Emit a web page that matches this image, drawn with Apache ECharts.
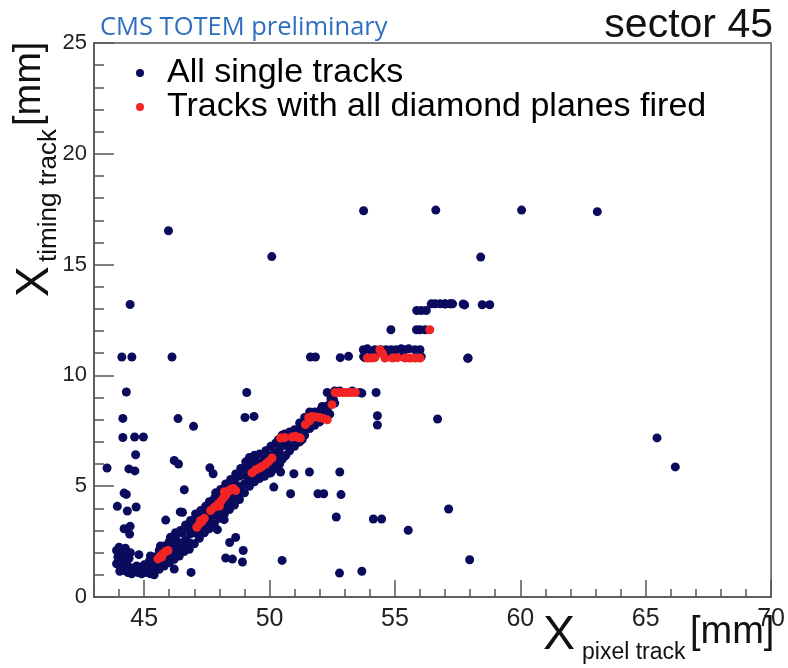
<!DOCTYPE html>
<html>
<head>
<meta charset="utf-8">
<script src="https://cdn.jsdelivr.net/npm/echarts@6/dist/echarts.min.js"></script>
<style>
html,body{margin:0;padding:0;background:#fff;}
#chart{width:788px;height:668px;}
</style>
</head>
<body>
<div id="chart"></div>
<script>
// ---- data (x = X pixel track [mm], y = X timing track [mm]) ----
var xMajorTicks = [45, 50, 55, 60, 65, 70];
var xMinorTicks = [43, 44, 46, 47, 48, 49, 51, 52, 53, 54, 56, 57, 58, 59, 61, 62, 63, 64, 66, 67, 68, 69];
var seriesNames = ['All single tracks', 'Tracks with all diamond planes fired'];

var allTracks = [
  // bottom band
  [44.2,1.2],[44.35,1.1],[44.5,1.05],[44.6,1.2],[44.75,1.1],[44.9,1.05],[45.0,1.2],[45.1,1.1],[45.25,1.05],[45.4,1.15],
  [44.4,1.35],[44.7,1.4],[45.0,1.45],[45.3,1.35],[45.5,1.3],[44.55,1.3],[44.85,1.3],[45.2,1.3],
  // left cluster
  [43.9,1.5],[43.95,1.8],[43.9,2.1],[44.0,2.25],[44.1,1.6],[44.15,1.95],[44.25,2.2],[44.3,1.5],[44.4,1.75],[44.45,2.0],
  [44.05,1.35],[44.2,1.8],[44.03,1.16],[44.79,1.91],
  // rising band
  [45.3,1.5],[45.4,1.8],[45.5,1.45],[45.6,2.1],[45.7,1.6],[45.8,2.3],[45.9,1.75],[46.0,2.5],[46.05,1.9],[46.15,2.2],
  [46.25,2.7],[46.3,2.0],[46.4,2.45],[46.5,2.9],[46.55,2.2],[46.65,2.6],[46.7,3.1],[46.8,2.45],[46.85,2.85],[46.9,3.3],
  [47.0,2.9],[47.0,3.5],[47.1,3.7],[47.15,3.0],[47.3,3.85],[47.35,3.2],[47.5,3.95],[47.5,3.4],[47.6,4.3],[47.7,3.7],
  [47.8,4.45],[47.9,3.9],[48.0,4.6],[48.1,4.0],[48.2,4.9],[48.3,4.25],[48.4,5.05],[48.5,4.5],[48.6,5.2],[48.7,4.6],
  [48.8,5.45],[48.85,4.85],[48.9,5.7],[49.0,5.1],[49.05,5.9],[49.15,5.3],[49.2,5.88],[49.25,6.05],
  [49.35,5.45],[49.5,5.55],[49.6,6.0],[49.7,5.6],[49.8,6.2],[49.9,5.7],[50.0,6.35],[50.1,5.8],[50.2,6.5],[50.3,6.0],
  [50.4,6.7],[50.5,6.2],[50.6,6.85],[50.65,6.4],[50.75,7.0],[49.4,5.85],[50.05,5.6],
  [50.35,7.1],[50.5,7.3],[50.7,7.05],[50.85,7.35],[51.0,7.1],[51.1,7.4],[51.25,7.3],[51.35,7.5],[51.45,7.65],[50.8,7.2],[51.3,7.1],
  [51.5,7.9],[51.6,8.2],[51.75,8.0],[51.9,8.25],[52.05,8.2],[52.2,8.3],[52.3,8.5],[52.4,8.7],[52.55,8.9],[52.1,8.6],[52.6,8.75],[51.95,7.95],
  // band edges
  [45.2,1.6],[45.25,1.85],[45.4,1.0],[45.45,1.6],[45.6,1.25],[45.6,1.7],[45.65,2.3],[45.8,1.4],[45.8,1.95],
  [46.0,1.55],[46.0,2.15],[46.05,2.7],[46.2,1.7],[46.2,2.5],[46.25,2.9],[46.4,1.85],[46.4,2.2],[46.45,3.0],
  [46.6,2.05],[46.6,2.45],[46.65,3.25],[46.8,2.15],[46.8,3.1],[46.85,3.45],[47.0,2.4],[47.0,3.25],[47.05,3.75],
  [47.2,2.65],[47.25,3.9],[47.4,2.9],[47.4,3.65],[47.45,4.1],[47.6,3.1],[47.65,3.6],[47.8,3.3],[47.8,3.75],[47.85,4.7],
  [48.0,3.55],[48.05,4.85],[48.2,3.75],[48.2,4.2],[48.25,5.1],[48.4,3.95],[48.4,4.45],[48.45,5.3],
  [48.6,4.15],[48.6,4.7],[48.65,5.55],[48.8,4.4],[48.8,5.0],[48.85,5.8],[49.0,4.7],[49.0,5.5],[49.05,6.1],
  [49.2,5.0],[49.25,5.6],[49.2,6.3],[49.4,5.2],[49.45,6.15],[49.4,6.4],[49.6,5.35],[49.6,6.45],
  [49.8,5.45],[49.8,5.9],[49.85,6.6],[50.0,5.6],[50.0,6.05],[50.05,6.8],[50.2,5.8],[50.2,6.2],[50.25,6.95],
  [50.4,6.0],[50.4,6.45],[50.45,7.0],[50.6,6.35],[50.6,7.35],[50.8,6.6],[50.85,6.95],[50.8,7.45],[51.0,6.8],[51.0,7.55],
  [51.2,7.0],[51.25,7.6],[51.2,7.85],[51.4,7.3],[51.45,7.9],[51.4,8.1],[51.6,7.6],[51.6,8.35],[51.8,7.75],[51.8,8.35],
  [52.0,7.9],[52.0,8.4],[52.2,8.05],[52.25,8.6],[52.4,8.25],[52.45,8.95],
  // plateaus
  [52.3,9.23],[52.45,9.15],[52.6,9.3],[53.6,9.23],[53.68,9.2],[52.8,9.3],[53.3,9.3],[54.25,9.23],
  [53.74,11.16],[53.9,11.2],[54.05,11.1],[54.2,11.16],[54.45,11.16],[54.65,11.16],[54.85,11.16],[55.05,11.16],[55.25,11.2],[55.4,11.16],
  [55.55,11.2],[55.8,11.16],[56.0,11.16],[53.75,10.85],[54.3,11.0],[53.8,10.8],[54.7,10.85],[55.3,10.85],[56.05,10.85],
  [51.63,10.83],[51.83,10.83],[52.82,10.8],[53.15,10.86],[57.92,10.78],
  [54.84,12.06],[55.86,12.06],[56.0,12.06],[56.2,12.06],
  [55.87,12.93],[56.05,12.93],[56.25,12.93],
  [56.45,13.23],[56.6,13.23],[56.8,13.23],[57.0,13.23],[57.2,13.23],[57.3,13.23],[57.72,13.22],[57.78,13.18],[58.48,13.19],[58.78,13.19],
  // outliers
  [53.75,17.43],[56.63,17.46],[60.05,17.46],[63.07,17.39],[58.42,15.34],[50.09,15.36],[45.97,16.53],
  [44.44,13.2],[44.11,10.83],[44.51,10.83],[46.11,10.83],[44.29,9.25],[49.09,9.23],[44.15,8.06],[49.02,8.1],[49.38,8.15],
  [46.35,8.05],[44.15,7.2],[44.62,7.22],[44.97,7.22],[46.97,7.7],[44.66,6.42],[46.2,6.16],[46.37,6.0],[43.52,5.82],
  [44.39,5.78],[44.63,5.69],[47.62,5.83],[47.75,5.56],[46.6,4.84],[44.2,4.69],[44.29,4.63],[43.93,4.09],[44.33,3.88],
  [44.68,4.06],[46.44,3.84],[46.53,3.82],[45.86,3.47],[44.2,3.08],[44.44,3.19],[44.42,2.84],[48.19,3.49],[47.59,3.08],
  [47.92,3.04],[48.65,2.69],[48.41,2.46],[48.95,2.1],[48.92,1.58],[48.25,1.76],[48.52,1.71],[50.5,1.65],[46.2,1.26],
  [46.87,1.11],[52.79,1.08],[53.68,1.16],[57.98,1.68],[55.53,3.01],[54.14,3.52],[54.47,3.52],[52.66,3.61],[57.14,3.97],
  [50.84,4.66],[51.93,4.66],[52.16,4.66],[52.85,4.62],[50.17,4.96],[50.44,5.64],[50.97,5.56],[51.59,5.64],[52.8,5.64],
  [54.3,8.18],[54.3,7.76],[56.7,8.03],[57.9,10.77],[65.45,7.18],[66.18,5.87],
  [57.23,13.23],[57.0,13.22]
];

var diamondTracks = [
  [45.55,1.72],[45.65,1.85],[45.75,1.95],[45.85,2.05],[45.95,2.1],[45.7,1.8],
  [47.1,3.15],[47.2,3.3],[47.3,3.4],[47.4,3.55],[47.25,3.45],
  [47.65,3.9],[47.8,4.05],[47.95,4.2],[48.05,4.3],[48.15,4.45],[48.25,4.6],[48.35,4.75],[48.45,4.85],[48.55,4.9],[48.65,4.8],[48.2,4.75],[48.0,4.1],
  [49.3,5.6],[49.45,5.74],[49.6,5.82],[49.7,5.89],[49.85,6.0],[49.97,6.12],[50.1,6.27],
  [50.44,7.17],[50.6,7.2],[51.03,7.25],[51.15,7.2],[51.23,7.17],[50.9,7.22],
  [51.43,7.78],[51.56,8.1],[51.7,8.15],[51.85,8.12],[52.0,8.1],[52.15,8.05],[52.3,8.0],[51.6,7.95],
  [52.49,8.68],
  [52.62,9.23],[52.78,9.23],[52.95,9.23],[53.1,9.23],[53.25,9.23],[53.42,9.23],
  [53.9,10.78],[54.05,10.78],[54.2,10.8],[54.4,11.16],[54.6,10.78],[54.9,10.78],[55.1,10.8],[55.4,10.78],[55.6,10.78],[55.8,10.78],[56.0,10.78],[54.5,11.0],
  [56.39,12.06]
];

var chart = echarts.init(document.getElementById('chart'), null, {renderer: 'canvas'});
var axisColor = '#555555';
var labelFont = 'Liberation Sans, Arial, sans-serif';

chart.setOption({
  animation: false,
  backgroundColor: '#ffffff',
  grid: {left: 94, right: 14, top: 43, bottom: 71, show: true, borderColor: axisColor, borderWidth: 1.5, containLabel: false},
  legend: {
    orient: 'vertical', left: 136, top: 56, itemGap: 0, padding: 0,
    icon: 'circle', itemWidth: 8, itemHeight: 8,
    textStyle: {fontFamily: labelFont, fontSize: 34, color: '#000', lineHeight: 28, padding: [0, 0, 0, 18]},
    data: seriesNames
  },
  xAxis: [{
    type: 'value', min: 43, max: 70, position: 'bottom',
    axisLine: {show: true, onZero: false, lineStyle: {color: axisColor, width: 1.5}},
    axisTick: {show: true, inside: true, length: 17, customValues: xMajorTicks, lineStyle: {color: axisColor, width: 1.5}},
    axisLabel: {show: true, customValues: xMajorTicks, margin: 10, fontFamily: labelFont, fontSize: 25, color: '#222'},
    splitLine: {show: false}
  }, {
    type: 'value', min: 43, max: 70, position: 'bottom',
    axisLine: {show: false},
    axisTick: {show: true, inside: true, length: 8, customValues: xMinorTicks, lineStyle: {color: axisColor, width: 1.5}},
    axisLabel: {show: false},
    splitLine: {show: false}
  }],
  yAxis: [{
    type: 'value', min: 0, max: 25, interval: 5,
    axisLine: {show: true, onZero: false, lineStyle: {color: axisColor, width: 1.5}},
    axisTick: {show: true, inside: true, length: 20, lineStyle: {color: axisColor, width: 1.5}},
    minorTick: {show: true, splitNumber: 5, length: 10, lineStyle: {color: axisColor, width: 1.5}},
    axisLabel: {margin: 7, fontFamily: labelFont, fontSize: 22, color: '#222'},
    splitLine: {show: false}, minorSplitLine: {show: false}
  }],
  series: [{
    name: seriesNames[0], type: 'scatter', xAxisIndex: 0, yAxisIndex: 0,
    symbol: 'circle', symbolSize: 9, itemStyle: {color: '#0b0b5e', opacity: 1},
    data: allTracks, z: 2
  }, {
    name: seriesNames[1], type: 'scatter', xAxisIndex: 0, yAxisIndex: 0,
    symbol: 'circle', symbolSize: 9, itemStyle: {color: '#f22424', opacity: 1},
    data: diamondTracks, z: 3
  }],
  graphic: [
    {type: 'text', left: 100, top: 15, style: {text: 'CMS TOTEM preliminary', fontFamily: 'Open Sans, sans-serif', fontSize: 25.5, fill: '#2f6fbf'}},
    {type: 'text', right: 15, top: 5, style: {text: 'sector 45', fontFamily: labelFont, fontSize: 41, fill: '#111'}},
    {type: 'text', left: 543, top: 612, style: {text: 'X', fontFamily: labelFont, fontSize: 48, fill: '#111'}},
    {type: 'text', left: 582, top: 641, style: {text: 'pixel track', fontFamily: labelFont, fontSize: 23, fill: '#111'}},
    {type: 'text', left: 690, top: 614, style: {text: '[mm]', fontFamily: labelFont, fontSize: 38, fill: '#111'}},
    {type: 'text', x: 12, y: 297, rotation: Math.PI / 2, style: {text: 'X', fontFamily: labelFont, fontSize: 46, fill: '#111'}},
    {type: 'text', x: 36, y: 262, rotation: Math.PI / 2, style: {text: 'timing track', fontFamily: labelFont, fontSize: 26, fill: '#111'}},
    {type: 'text', x: 11, y: 126, rotation: Math.PI / 2, style: {text: '[mm]', fontFamily: labelFont, fontSize: 38, fill: '#111'}}
  ]
});
</script>
</body>
</html>
